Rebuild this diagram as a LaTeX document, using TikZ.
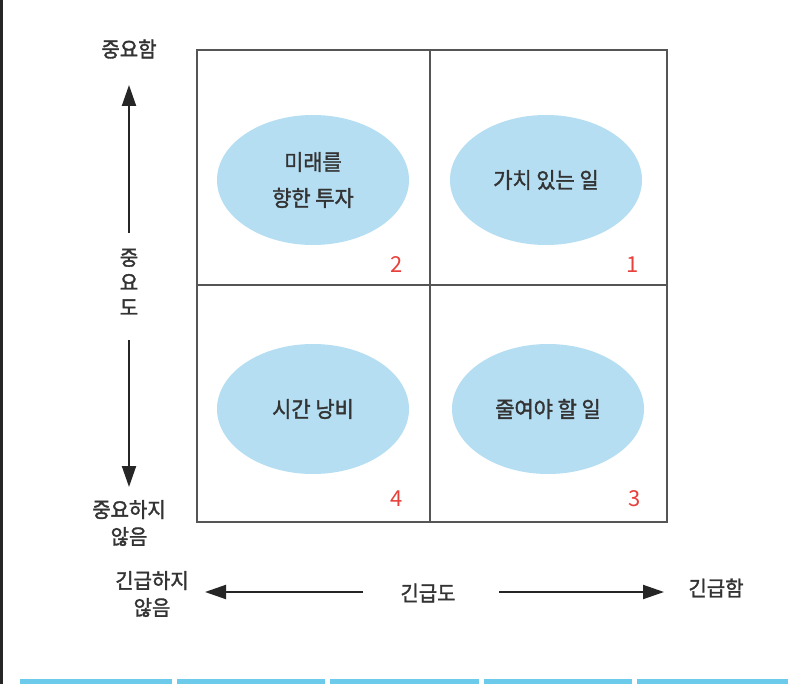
\documentclass[tikz,border=0pt]{standalone}
\usepackage{fontspec}
\setmainfont{Noto Sans CJK KR}
\newfontfamily\kr[FakeBold=1.6, FakeStretch=0.95]{Noto Sans CJK KR}
\newfontfamily\krnum{Noto Sans CJK KR}
\usetikzlibrary{arrows.meta,shapes.geometric}
\definecolor{gridgray}{HTML}{555555}
\definecolor{ellblue}{HTML}{B5DEF2}
\definecolor{numred}{HTML}{E8403A}
\definecolor{txt}{HTML}{333333}
\definecolor{barblue}{HTML}{6CCBEA}
\tikzset{
  quad/.style={draw=gridgray, line width=2pt},
  task/.style={ellipse, fill=ellblue, minimum width=192pt, minimum height=130pt, inner sep=0pt,
    text=txt, font=\kr\fontsize{22}{36}\selectfont, align=center},
  num/.style={text=numred, font=\krnum\fontsize{22}{24}\selectfont, inner sep=0pt},
  lbl/.style={text=txt, font=\kr\fontsize{21}{27}\selectfont, align=center, inner sep=0pt},
  axis/.style={draw=black!85, line width=2pt, -{Triangle[length=21pt,width=14pt]}},
}
\begin{document}
\begin{tikzpicture}[x=1pt,y=-1pt]
\useasboundingbox (0,0) rectangle (802,684);
\fill[white] (0,0) rectangle (802,684);
% page left border
\fill[black!85] (0,0) rectangle (3,684);
% right edge circle
\begin{scope}
\clip (0,0) rectangle (802,684);
\fill[gray!55] (813,38) circle (11);
\end{scope}
% bottom blue bars
\foreach \a/\b in {20/172,177/325,330/479,484/632,637/788}{
  \fill[barblue] (\a,679) rectangle (\b,684);
}
% grid
\draw[quad] (197,50) rectangle (667,522);
\coordinate (vt) at (430,50);
\coordinate (vb) at (430,522);
\coordinate (hl) at (197,285);
\coordinate (hr) at (667,285);
\draw[quad] (vt) -- (vb);
\draw[quad] (hl) -- (hr);
% ellipses
\node[task] (e2) at (313,180) {미래를\\향한 투자};
\node[task] (e1) at (546,180) {가치 있는 일};
\node[task] (e4) at (313,409) {시간 낭비};
\node[task] (e3) at (548,409) {줄여야 할 일};
% numbers
\node[num] (n2) at (397,265) {2};
\node[num] (n1) at (633,265) {1};
\node[num] (n4) at (397,499) {4};
\node[num] (n3) at (635,499) {3};
% vertical axis
\node[lbl] (imp) at (129,49) {중요함};
\node[lbl, font=\kr\fontsize{21}{25}\selectfont] (impc) at (129,282) {중\\요\\도};
\node[lbl] (nimp) at (129,523) {중요하지\\않음};
\coordinate (vup) at (129,85);
\coordinate (vdn) at (129,487);
\coordinate (vs1) at (129,233);
\coordinate (vs2) at (129,340);
\draw[axis] (vs1) -- (vup);
\draw[axis] (vs2) -- (vdn);
% horizontal axis
\node[lbl] (nurg) at (152,594) {긴급하지\\않음};
\node[lbl] (urgc) at (428,593) {긴급도};
\node[lbl] (urg) at (716,588) {긴급함};
\coordinate (hlt) at (205,592);
\coordinate (hrt) at (664,592);
\coordinate (hs1) at (363,592);
\coordinate (hs2) at (499,592);
\draw[axis] (hs1) -- (hlt);
\draw[axis] (hs2) -- (hrt);
\end{tikzpicture}
\end{document}
